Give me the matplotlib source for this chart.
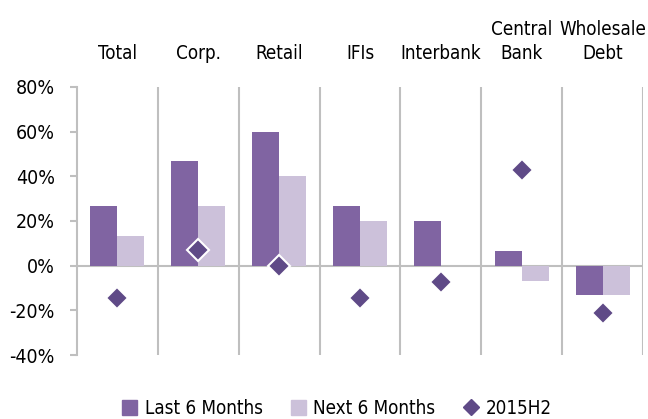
import matplotlib.pyplot as plt
from matplotlib.patches import Patch
from matplotlib.lines import Line2D
from matplotlib.ticker import FuncFormatter

plt.rcParams['font.family'] = ['Liberation Sans Narrow', 'DejaVu Sans']
plt.rcParams['font.stretch'] = 'condensed'

categories = ['Total', 'Corp.', 'Retail', 'IFIs', 'Interbank', 'Central\nBank', 'Wholesale\nDebt']
last_6m = [26.7, 46.7, 60.0, 26.7, 20.0, 6.7, -13.3]
next_6m = [13.3, 26.7, 40.0, 20.0, 0.0, -6.7, -13.3]
h2_2015 = [-14.3, 7.1, 0.0, -14.3, -7.1, 42.9, -21.4]

c_last = '#8064A2'
c_next = '#CCC1DA'
c_dia = '#5F4A87'
c_grid = '#BFBFBF'

fig = plt.figure(figsize=(6.48, 4.19), dpi=100)
ax = fig.add_axes([77 / 648, 64 / 419, 566 / 648, 268 / 419])

x = list(range(len(categories)))
w = 1 / 3
ax.bar([i - w / 2 for i in x], last_6m, width=w, color=c_last, zorder=2)
ax.bar([i + w / 2 for i in x], next_6m, width=w, color=c_next, zorder=2)
ax.plot(x, h2_2015, linestyle='none', marker='D', markersize=11,
        color=c_dia, markeredgecolor='white', markeredgewidth=1.5, zorder=4)

# separators between categories and zero line
for i in range(len(categories)):
    ax.axvline(i + 0.5, color=c_grid, linewidth=1.5, zorder=1)
ax.axhline(0, color=c_grid, linewidth=1.5, zorder=1)

ax.set_xlim(-0.5, len(categories) - 0.5)
ax.set_ylim(-40, 80)
ax.set_yticks(range(-40, 81, 20))
ax.yaxis.set_major_formatter(FuncFormatter(lambda v, p: f'{v:.0f}%'))
ax.tick_params(axis='y', length=5, width=1.5, color=c_grid, labelsize=14, pad=11)
ax.set_xticks([])

for s in ['top', 'right', 'bottom']:
    ax.spines[s].set_visible(False)
ax.spines['left'].set_color(c_grid)
ax.spines['left'].set_linewidth(1.5)

for i, lab in enumerate(categories):
    ax.text(i, 1.09, lab, transform=ax.get_xaxis_transform(), ha='center', va='bottom',
            fontsize=13.5, linespacing=1.3)

handles = [Patch(color=c_last), Patch(color=c_next),
           Line2D([], [], linestyle='none', marker='D', markersize=8, color=c_dia)]
fig.legend(handles, ['Last 6 Months', 'Next 6 Months', '2015H2'], loc='center',
           bbox_to_anchor=(0.52, 0.025), ncol=3, frameon=False, fontsize=13.5,
           handlelength=0.8, handleheight=0.8, handletextpad=0.4, columnspacing=1.5)

fig.savefig('out.png', dpi=100)
